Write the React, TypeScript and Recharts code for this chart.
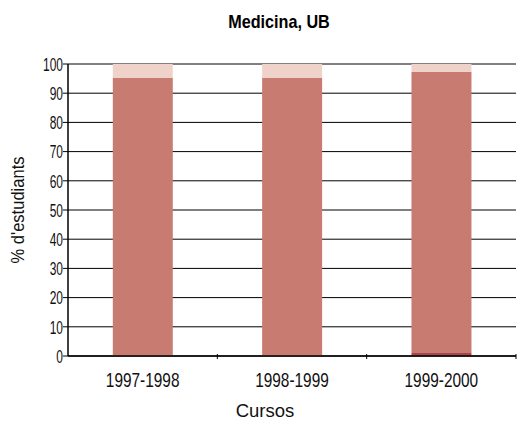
import React from "react";
import { BarChart, Bar, XAxis, YAxis, CartesianGrid } from "recharts";

const categories = ["1997-1998", "1998-1999", "1999-2000"];
const darkValues = [0, 0, 1];
const mainValues = [95.2, 95.2, 96.3];
const lightValues = [4.8, 4.8, 2.7];
const yTicks = [0, 10, 20, 30, 40, 50, 60, 70, 80, 90, 100];

const data = categories.map((c, i) => ({
  curs: c,
  dark: darkValues[i],
  main: mainValues[i],
  light: lightValues[i],
}));

const FONT = "'Liberation Sans', Arial, sans-serif";
const PLOT_LEFT = 68;
const PLOT_RIGHT = 516;
const BAND = (PLOT_RIGHT - PLOT_LEFT) / categories.length;

const XTick = (props: any) => {
  const { x, y, payload } = props;
  return (
    <g>
      <line x1={x + BAND / 2} x2={x + BAND / 2} y1={y - 10} y2={y - 5} stroke="#000" strokeWidth={1} />
      <text
        transform={`translate(${x},${y + 23}) scale(0.79,1)`}
        x={0}
        y={0}
        textAnchor="middle"
        fontSize={19.5}
        fontFamily={FONT}
        fill="#111"
      >
        {payload.value}
      </text>
    </g>
  );
};

const YTick = (props: any) => {
  const { x, y, payload } = props;
  return (
    <text
      transform={`translate(${x + 2},${y + 6.8}) scale(0.63,1)`}
      x={0}
      y={0}
      textAnchor="end"
      fontSize={19}
      fontFamily={FONT}
      fill="#111"
    >
      {payload.value}
    </text>
  );
};

export default function App() {
  return (
    <div style={{ position: "absolute", left: 0, top: 0, width: 518, height: 423, background: "#fff" }}>
      <BarChart
        width={518}
        height={423}
        data={data}
        margin={{ top: 64, right: 2, left: 8, bottom: 37 }}
        barCategoryGap="30%"
      >
        <CartesianGrid horizontal vertical={false} stroke="#000" strokeWidth={1} strokeOpacity={1} />
        <XAxis
          dataKey="curs"
          height={30}
          tickLine={false}
          axisLine={{ stroke: "#000", strokeWidth: 1.5 }}
          tick={<XTick />}
          interval={0}
        />
        <YAxis
          width={60}
          domain={[0, 100]}
          ticks={yTicks}
          interval={0}
          tickSize={5}
          tickLine={{ stroke: "#000" }}
          axisLine={{ stroke: "#000", strokeWidth: 1.5 }}
          tick={<YTick />}
        />
        <Bar dataKey="dark" stackId="a" fill="#a8454a" isAnimationActive={false} />
        <Bar dataKey="main" stackId="a" fill="#c77b71" isAnimationActive={false} />
        <Bar dataKey="light" stackId="a" fill="#efd3cb" isAnimationActive={false} />
      </BarChart>
      <svg
        width={518}
        height={423}
        style={{ position: "absolute", left: 0, top: 0, pointerEvents: "none" }}
      >
        <text
          transform="translate(279,27.5) scale(0.9,1)"
          textAnchor="middle"
          fontSize={18}
          fontWeight="bold"
          fontFamily={FONT}
          fill="#000"
        >
          Medicina, UB
        </text>
        <text
          transform="translate(24,210) rotate(-90) scale(0.92,1)"
          textAnchor="middle"
          fontSize={18}
          fontFamily={FONT}
          fill="#111"
        >
          % d'estudiants
        </text>
        <text
          x={265}
          y={417}
          textAnchor="middle"
          fontSize={18.5}
          fontFamily={FONT}
          fill="#111"
        >
          Cursos
        </text>
      </svg>
    </div>
  );
}
